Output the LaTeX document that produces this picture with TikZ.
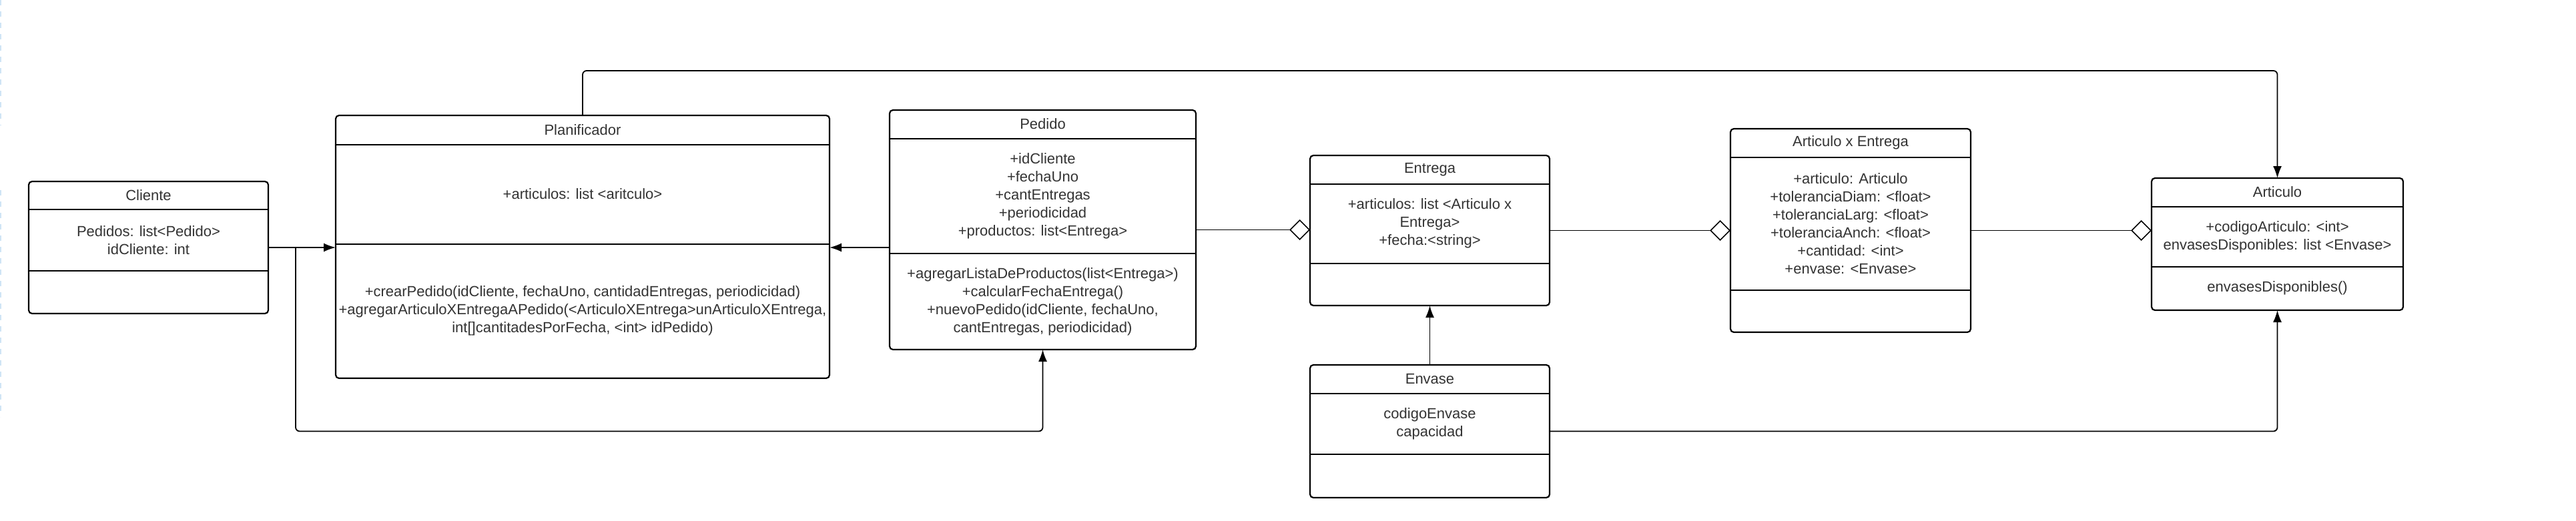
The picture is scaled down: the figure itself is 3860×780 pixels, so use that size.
\documentclass[tikz,border=0pt]{standalone}
\usepackage{fontspec}
\setmainfont{Liberation Sans}
\usetikzlibrary{arrows.meta}
\definecolor{txtc}{HTML}{333333}
\definecolor{edgeblue}{HTML}{CFE4F5}
\tikzset{
  classbox/.style={draw=black, line width=2.2pt, rounded corners=5pt, fill=white, inner sep=0pt, outer sep=0pt},
  divline/.style={draw=black, line width=2.2pt},
  txt/.style={text=txtc, font=\fontsize{22}{27}\selectfont, align=center, inner sep=0pt},
  conn/.style={draw=black, line width=1.8pt, rounded corners=6pt},
  tri/.style={-{Latex[length=18pt,width=13pt]}},
  agg/.style={-{Diamond[open,length=31pt,width=31pt,line width=1.6pt]}},
}
% #1 name, #2 x1, #3 x2, #4 ytop, #5 ydiv1, #6 ydiv2, #7 ybot
\newcommand\umlbox[7]{%
  \node[classbox, minimum width={#3-#2}, minimum height={#7-#4}] (#1) at ({(#2+#3)/2},{(#4+#7)/2}) {};
  \draw[divline] (#2,#5) -- (#3,#5);
  \draw[divline] (#2,#6) -- (#3,#6);
}
\begin{document}
\begin{tikzpicture}[x=1pt,y=-1pt]
\useasboundingbox (0,0) rectangle (3860,780);
\fill[white] (0,0) rectangle (3860,780);
\draw[edgeblue, line width=1.5pt, dash pattern=on 8pt off 9pt] (0.75,0) -- (0.75,188);
\draw[edgeblue, line width=1.5pt, dash pattern=on 8pt off 9pt] (0.75,285) -- (0.75,625);

% Cliente
\umlbox{cli}{43}{402}{272}{314}{406}{470}
\node[txt] (cli-t) at (222.5,293) {Cliente};
\node[txt] (cli-a) at (222.5,360) {Pedidos: list<Pedido>\\idCliente: int};

% Planificador
\umlbox{plan}{503}{1243}{173}{217}{366}{567}
\node[txt] (plan-t) at (873,195) {Planificador};
\node[txt] (plan-a) at (873,291) {+articulos: list <aritculo>};
\node[txt] (plan-m) at (873,466) {+crearPedido(idCliente, fechaUno, cantidadEntregas, periodicidad)\\+agregarArticuloXEntregaAPedido(<ArticuloXEntrega>unArticuloXEntrega,\\int[]cantitadesPorFecha, <int> idPedido)};

% Pedido
\umlbox{ped}{1333}{1792}{165}{208}{380}{524}
\node[txt] (ped-t) at (1562.5,186) {Pedido};
\node[txt] (ped-a) at (1562.5,294) {+idCliente\\+fechaUno\\+cantEntregas\\+periodicidad\\+productos: list<Entrega>};
\node[txt] (ped-m) at (1562.5,452) {+agregarListaDeProductos(list<Entrega>)\\+calcularFechaEntrega()\\+nuevoPedido(idCliente, fechaUno,\\cantEntregas, periodicidad)};

% Entrega
\umlbox{ent}{1963}{2322}{233}{276}{395}{458}
\node[txt] (ent-t) at (2142.5,254) {Entrega};
\node[txt] (ent-a) at (2142.5,335) {+articulos: list <Articulo x\\Entrega>\\+fecha:<string>};

% Envase
\umlbox{env}{1963}{2322}{547}{590}{681}{746}
\node[txt] (env-t) at (2142.5,568) {Envase};
\node[txt] (env-a) at (2142.5,635) {codigoEnvase\\capacidad};

% Articulo x Entrega
\umlbox{axe}{2593}{2953}{193}{236}{435}{498}
\node[txt] (axe-t) at (2773,214) {Articulo x Entrega};
\node[txt] (axe-a) at (2773,335) {+articulo: Articulo\\+toleranciaDiam: <float>\\+toleranciaLarg: <float>\\+toleranciaAnch: <float>\\+cantidad: <int>\\+envase: <Envase>};

% Articulo
\umlbox{art}{3224}{3601}{267}{310}{400}{465}
\node[txt] (art-t) at (3412.5,288) {Articulo};
\node[txt] (art-a) at (3412.5,355) {+codigoArticulo: <int>\\envasesDisponibles: list <Envase>};
\node[txt] (art-m) at (3412.5,432) {envasesDisponibles()};

% connectors
\coordinate (br) at (443,371);
\coordinate (topy) at (0,106);
\draw[conn, tri] (cli.east) -- (cli.east -| plan.west);
\draw[conn, tri] (br) |- (ped.south |- env.east) -- (ped.south);
\draw[conn, tri] (ped.west |- br) -- (plan.east |- br);
\draw[conn, agg] (ped.east) -- (ped.east -| ent.west);
\draw[conn, agg] (ent.east) -- (ent.east -| axe.west);
\draw[conn, agg] (axe.east) -- (axe.east -| art.west);
\draw[conn, tri] (env.north) -- (ent.south);
\draw[conn, tri] (plan.north) -- (plan.north |- topy) -| (art.north);
\draw[conn, tri] (env.east) -| (art.south);
\end{tikzpicture}
\end{document}
